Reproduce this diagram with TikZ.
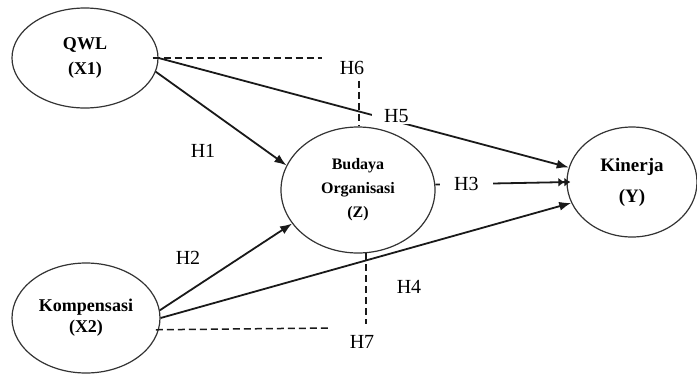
\documentclass[tikz,border=0pt]{standalone}
\usepackage{fontspec}
\setmainfont{Liberation Serif}
\usepackage{tikz}
\usetikzlibrary{arrows.meta,positioning,calc,shapes.geometric}
\colorlet{pathInk}{black!90}
\colorlet{lineInk}{black!80}
\tikzset{
  >=Latex,
  % latent constructs of the path model
  construct/.style={
    ellipse,
    draw=lineInk,
    line width=1.2pt,
    inner sep=0pt,
    align=center,
    font=\bfseries
  },
  hyplab/.style={
    font=\fontsize{20}{22}\selectfont,
    inner sep=1pt
  },
  patharrow/.style={
    -{Latex[length=12pt,width=9pt]},
    line width=1.8pt,
    draw=pathInk
  },
  mediation/.style={
    line width=1.5pt,
    draw=pathInk,
    dash pattern=on 7pt off 4pt
  }
}
\begin{document}
\begin{tikzpicture}[x=1pt,y=-1pt]
\useasboundingbox (0,0) rectangle (697,373);

% constructs: X1, X2 -> Z -> Y
\node[construct, minimum width=146pt, minimum height=100pt,
      font=\bfseries\fontsize{18}{25}\selectfont] (qwl) at (85,58) {QWL\\(X1)};
\node[construct, minimum width=148pt, minimum height=110pt,
      font=\bfseries\fontsize{18}{21}\selectfont] (komp) at (86,318) {Kompensasi\\(X2)};
\node[construct, minimum width=154pt, minimum height=126pt,
      font=\bfseries\fontsize{16}{24}\selectfont] (budaya) at (358,190) {Budaya\\Organisasi\\(Z)};
\node[construct, minimum width=130pt, minimum height=110pt,
      font=\bfseries\fontsize{19}{31}\selectfont] (kinerja) at (632,182) {Kinerja\\(Y)};

% hypothesis labels
\node[hyplab] (h1) at (203,151) {H1};
\node[hyplab] (h2) at (188,258) {H2};
\node[hyplab] (h4) at (409,287) {H4};
\node[hyplab] (h6) at (352,68) {H6};
\node[hyplab] (h7) at (362,342) {H7};

% direct paths
\draw[patharrow] (qwl.-11) -- (budaya.161);
\draw[patharrow] (komp.6) -- (budaya.207);
\draw[patharrow] (komp.east) -- (kinerja.199);
\draw[patharrow] (qwl.east) -- node[hyplab, pos=0.58, fill=white, inner xsep=12pt, yshift=5pt] (h5) {H5} (kinerja.167);
\draw[line width=1.8pt, draw=pathInk, -{Latex[length=6pt,width=9pt]Latex[length=6pt,width=9pt]}]
  (budaya.4) -- node[hyplab, pos=0.23, fill=white, inner xsep=14pt] (h3) {H3} ($(kinerja.west)+(4,0)$);

% mediation (indirect) paths
\coordinate (topend) at (322,58);
\coordinate (botend) at (330,328);
\draw[mediation] ($(qwl.east)+(-6,0)$) -- (topend);
\draw[mediation] ($(h6.south -| budaya.north)+(1,5)$) -- ($(budaya.north)+(1,0)$);
\draw[mediation] ($(komp.-6)+(-4,4)$) -- (botend);
\draw[mediation] (budaya.-83) -- ($(h7.north -| budaya.-83)+(0,-10)$);

\end{tikzpicture}
\end{document}
